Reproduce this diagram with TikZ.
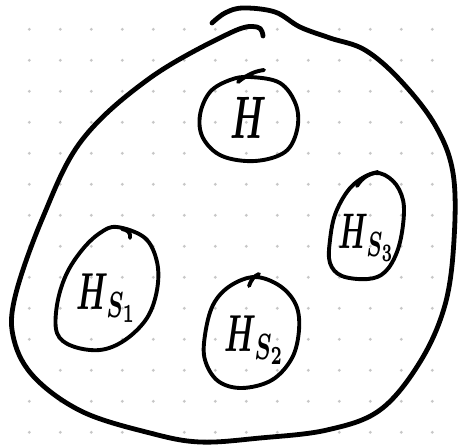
\documentclass[tikz,border=0pt]{standalone}
\begin{document}
\begin{tikzpicture}[x=1pt,y=-1pt, line cap=round, line join=round,
  blob/.style={line width=4.8pt},
  oval/.style={line width=3.9pt},
  dotmark/.style={fill=black!22},
  lab/.style={inner sep=0pt, font=\boldmath}]
\useasboundingbox (0,0) rectangle (458,447);
\fill[white] (0,0) rectangle (458,447);
\foreach \i in {0,...,13} \foreach \j in {0,...,13}
  \fill[dotmark] (29.3+31*\i, 29.3+31*\j) circle (1.6);
% big blob
\draw[blob] plot[smooth, tension=0.6] coordinates {(263,36) (257,27) (230,33) (150,78) (82,140) (43,217) (15,297) (14,340) (35,378) (83,412) (150,433) (200,442) (260,438) (327,430) (380,410) (420,362) (445,305) (454,240) (453,173) (435,125) (400,80) (365,50) (330,38) (300,27) (275,12) (243,8) (225,13) (212,23)};
% H oval
\draw[oval] plot[smooth cycle, tension=0.6] coordinates {(250,77) (280,83) (296,105) (297,130) (285,152) (255,161) (222,156) (203,138) (200,115) (210,92) (230,80)};
\draw[oval] (238,82) .. controls (248,74) and (256,71) .. (264,70);
% H_S1 oval
\draw[oval] plot[smooth cycle, tension=0.6] coordinates {(117,227) (145,238) (157,262) (157,290) (147,318) (125,340) (100,350) (72,346) (57,333) (57,305) (66,275) (82,250) (100,233)};
\draw[oval] (122,229) .. controls (128,230) and (131,233) .. (130,238);
% H_S2 oval
\draw[oval] plot[smooth cycle, tension=0.6] coordinates {(255,277) (280,286) (296,305) (299,330) (292,358) (272,380) (242,388) (218,381) (205,360) (205,335) (213,305) (230,286)};
\draw[oval] (249,286) .. controls (251,280) and (254,276) .. (259,274);
% H_S3 oval
\draw[oval] plot[smooth cycle, tension=0.6] coordinates {(375,173) (393,181) (403,200) (403,225) (397,252) (385,272) (368,279) (342,276) (330,263) (330,240) (336,212) (352,186)};
\draw[oval] (357,186) .. controls (362,178) and (368,174) .. (378,172);
% labels
\node[lab] (h) at (249,118) {\scalebox{3.4}[6]{$H$}};
\node[lab] (hs1) at (107,298) {\scalebox{3}[5.2]{$H_{S_1}$}};
\node[lab] (hs2) at (255,340) {\scalebox{3}[5.2]{$H_{S_2}$}};
\node[lab] (hs3) at (367,238) {\scalebox{2.8}[5]{$H_{S_3}$}};
\end{tikzpicture}
\end{document}
